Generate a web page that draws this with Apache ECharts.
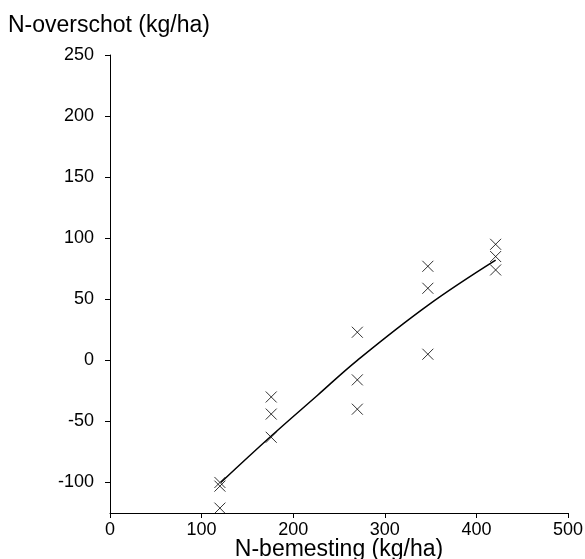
<!DOCTYPE html>
<html>
<head>
<meta charset="utf-8">
<script src="https://cdn.jsdelivr.net/npm/echarts@6/dist/echarts.min.js"></script>
<style>
  html, body { margin: 0; padding: 0; background: #fff; }
  #chart { width: 585px; height: 559px; }
</style>
</head>
<body>
<div id="chart"></div>
<script>
// Nitrogen application (kg/ha) vs. nitrogen surplus (kg/ha), per plot
const applied = [120, 120, 120, 176, 176, 176, 270, 270, 270, 347, 347, 347, 421, 421, 421];
const surplus = [-100, -103, -121, -30, -44, -63, 23, -16, -40, 77, 59, 5, 95, 85, 74];

// Fitted response curve
const fitApplied = [121, 176, 226, 270, 347, 421];
const fitSurplus = [-100, -62, -29, 0, 45, 82];

// Axis ticks
const xTicks = [0, 100, 200, 300, 400, 500];
const yTicks = [-100, -50, 0, 50, 100, 150, 200, 250];

const FONT = 'Liberation Sans, Arial, sans-serif';

const chart = echarts.init(document.getElementById('chart'), null, { renderer: 'canvas' });

chart.setOption({
  animation: false,
  backgroundColor: '#fff',
  title: {
    text: 'N-overschot (kg/ha)',
    left: 3,
    top: 9,
    textStyle: { fontFamily: FONT, fontSize: 23, fontWeight: 'normal', color: '#000' }
  },
  grid: { left: 110, right: 17, top: 55, bottom: 46, outerBoundsMode: 'none', containLabel: false },
  xAxis: {
    type: 'value',
    min: 0,
    max: 500,
    interval: 100,
    name: 'N-bemesting (kg/ha)',
    nameLocation: 'middle',
    nameGap: 25,
    nameMoveOverlap: false,
    nameTextStyle: { fontFamily: FONT, fontSize: 23, color: '#000' },
    axisLine: { show: true, onZero: false, lineStyle: { color: '#000', width: 1 } },
    axisTick: { show: true, length: 5, lineStyle: { color: '#000' }, customValues: xTicks },
    axisLabel: { fontFamily: FONT, fontSize: 18, color: '#000', margin: 8, customValues: xTicks },
    splitLine: { show: false }
  },
  yAxis: {
    type: 'value',
    min: -125,
    max: 250,
    axisLine: { show: true, onZero: false, lineStyle: { color: '#000', width: 1 } },
    axisTick: { show: true, length: 5, lineStyle: { color: '#000' }, customValues: yTicks },
    axisLabel: { fontFamily: FONT, fontSize: 18, color: '#000', margin: 16, customValues: yTicks },
    splitLine: { show: false }
  },
  series: [
    {
      type: 'line',
      data: fitApplied.map((x, i) => [x, fitSurplus[i]]),
      smooth: 0.4,
      showSymbol: false,
      lineStyle: { color: '#000', width: 1.5 },
      z: 2
    },
    {
      type: 'scatter',
      data: applied.map((x, i) => [x, surplus[i]]),
      symbol: 'path://M0,0L10,10M10,0L0,10',
      symbolSize: 11,
      itemStyle: { color: 'rgba(0,0,0,0)', borderColor: '#000', borderWidth: 1 },
      z: 3
    }
  ]
});
</script>
</body>
</html>
